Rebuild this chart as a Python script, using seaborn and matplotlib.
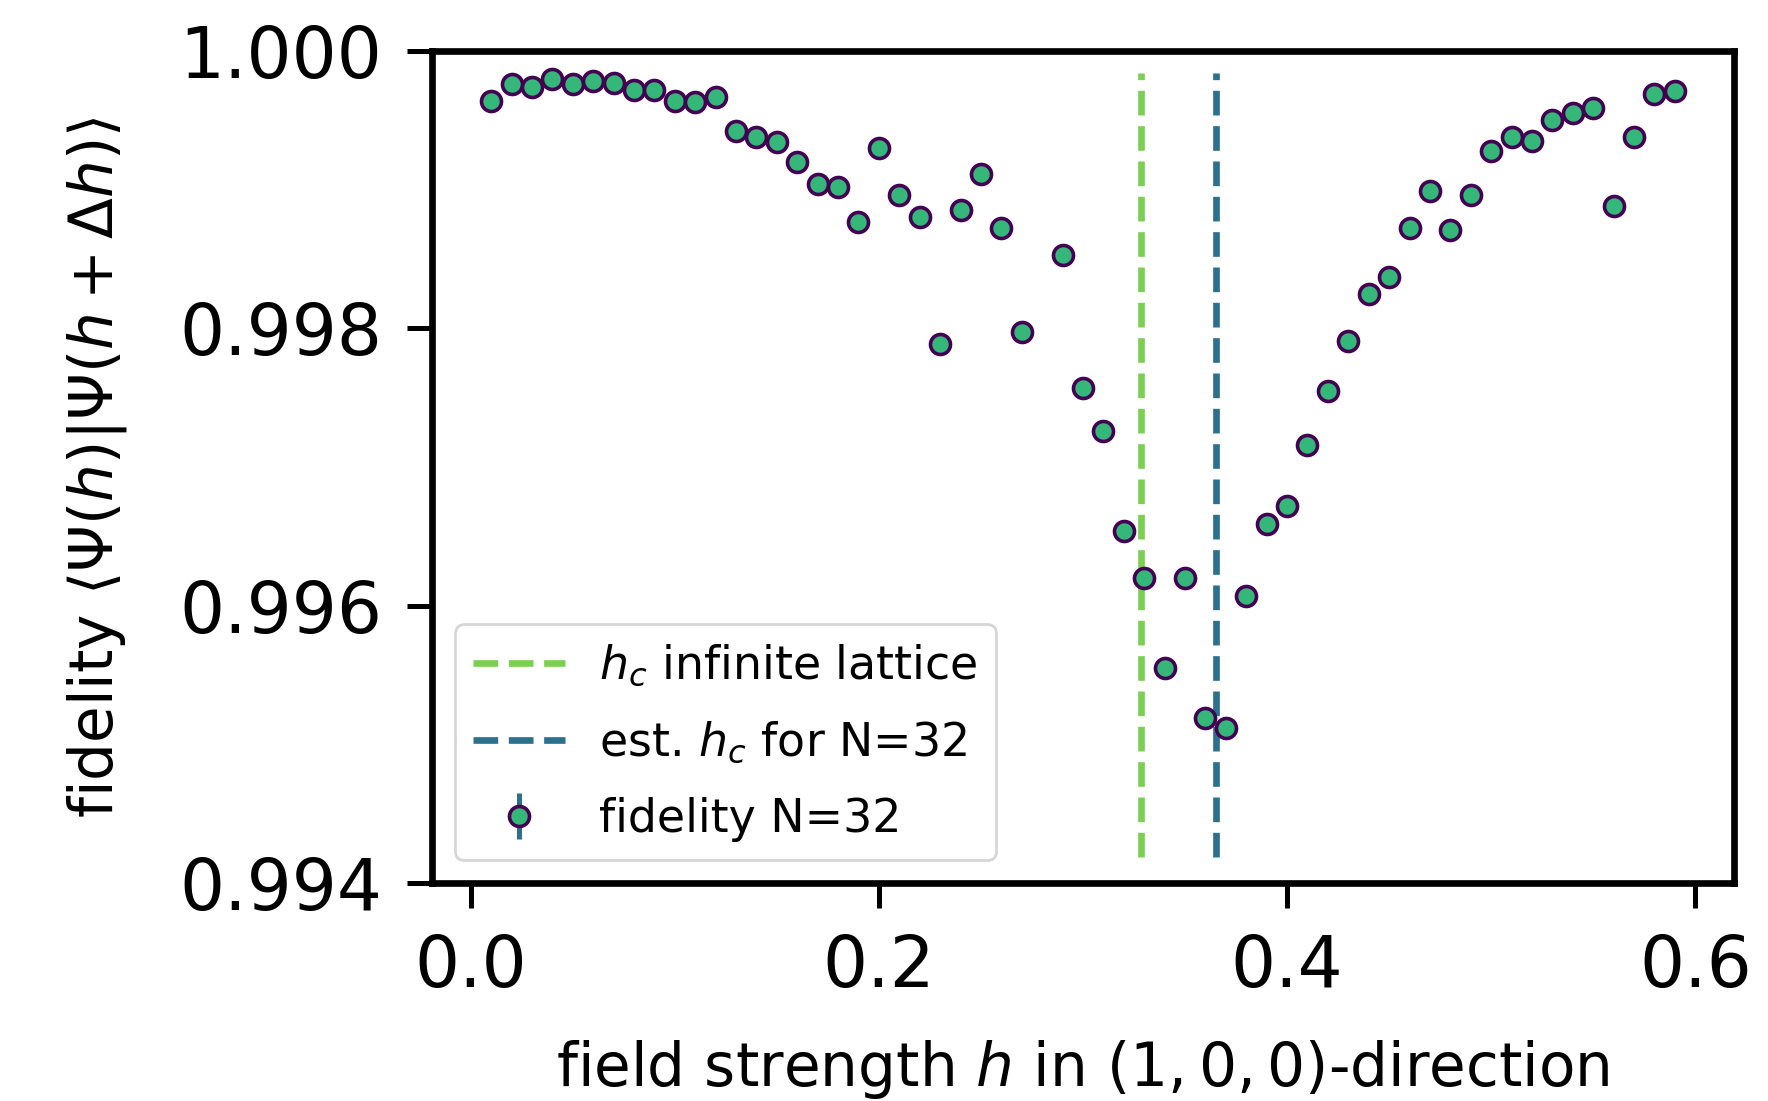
import numpy as np
import pandas as pd
import matplotlib
matplotlib.use("Agg")
import matplotlib.pyplot as plt
import seaborn as sns

# ---- data ----
field_h = [0.01, 0.02, 0.03, 0.04, 0.05, 0.06, 0.07, 0.08, 0.09, 0.10,
           0.11, 0.12, 0.13, 0.14, 0.15, 0.16, 0.17, 0.18, 0.19, 0.20,
           0.21, 0.22, 0.23, 0.24, 0.25, 0.26, 0.27, 0.28, 0.29, 0.30,
           0.31, 0.32, 0.33, 0.34, 0.35, 0.36, 0.37, 0.38, 0.39, 0.40,
           0.41, 0.42, 0.43, 0.44, 0.45, 0.46, 0.47, 0.48, 0.49, 0.50,
           0.51, 0.52, 0.53, 0.54, 0.55, 0.56, 0.57, 0.58, 0.59]
fidelity = [0.99964, 0.99976, 0.99974, 0.99980, 0.99976, 0.99978, 0.99977, 0.99972, 0.99972, 0.99964,
            0.99963, 0.99967, 0.99942, 0.99938, 0.99934, 0.99920, 0.99904, 0.99902, 0.99877, 0.99930,
            0.99896, 0.99880, 0.99789, 0.99885, 0.99911, 0.99872, 0.99797, np.nan, 0.99853, 0.99757,
            0.99726, 0.99654, 0.99620, 0.99555, 0.99620, 0.99519, 0.99512, 0.99607, 0.99659, 0.99672,
            0.99716, 0.99755, 0.99791, 0.99825, 0.99837, 0.99872, 0.99899, 0.99871, 0.99896, 0.99928,
            0.99938, 0.99935, 0.99950, 0.99955, 0.99959, 0.99888, 0.99938, 0.99969, 0.99971]
fidelity_err = [0.0] * len(field_h)

hc_infinite = 0.3285
hc_estimated = 0.365
vline_lo = 0.99419
vline_hi = 0.99984

y_ticks = [0.994, 0.996, 0.998, 1.000]
x_ticks = [0.0, 0.2, 0.4, 0.6]

# ---- style ----
sns.set_style("ticks")
plt.rcParams["font.family"] = ["DejaVu Sans"]
plt.rcParams["mathtext.fontset"] = "dejavusans"
plt.rcParams["text.color"] = "black"
plt.rcParams["axes.labelcolor"] = "black"
plt.rcParams["xtick.color"] = "black"
plt.rcParams["ytick.color"] = "black"

green_line = "#7ad151"
blue_line = "#2d708e"
marker_face = "#35b779"
marker_edge = "#440154"

fig = plt.figure(figsize=(8.84, 5.505), dpi=200)
ax = fig.add_axes([0.2443, 0.198, 0.9808 - 0.2443, 0.9537 - 0.198])

df = pd.DataFrame({"h": field_h, "f": fidelity})

for hc, col, lab in [(hc_infinite, green_line, r"$h_c$ infinite lattice"),
                     (hc_estimated, blue_line, r"est. $h_c$ for N=32")]:
    sns.lineplot(x=[hc, hc], y=[vline_lo, vline_hi], estimator=None, sort=False,
                 color=col, linestyle="--", linewidth=2.4, label=lab, ax=ax)

ax.errorbar(df["h"], df["f"], yerr=fidelity_err, fmt="o", color=blue_line,
            ecolor=blue_line, elinewidth=1.8, markersize=7.2,
            markerfacecolor=marker_face, markeredgecolor=marker_edge,
            markeredgewidth=1.3, label="fidelity N=32", zorder=3)

ax.set_ylim(0.994, 1.000)
ax.set_yticks(y_ticks)
ax.set_yticklabels([f"{t:.3f}" for t in y_ticks])
ax.set_xticks(x_ticks)
ax.set_xticklabels([f"{t:.1f}" for t in x_ticks])
ax.margins(x=0.05)

for s in ax.spines.values():
    s.set_linewidth(2.4)
    s.set_color("black")
ax.tick_params(axis="both", length=9, width=1.8, pad=9, labelsize=25.5, color="black",
               labelcolor="black")

ax.set_xlabel(r"field strength $h$ in $(1, 0, 0)$-direction", fontsize=21.5, labelpad=13)
ax.set_ylabel(r"fidelity $\langle\Psi(h)|\Psi(h + \Delta h)\rangle$", fontsize=21.5, labelpad=18)

leg = ax.legend(loc="lower left", fontsize=16.5, frameon=True, fancybox=True,
                framealpha=0.8, edgecolor="0.8", labelspacing=0.68,
                handletextpad=0.75)
for t in leg.get_texts():
    t.set_color("black")

fig.savefig("out.png", dpi=200)
